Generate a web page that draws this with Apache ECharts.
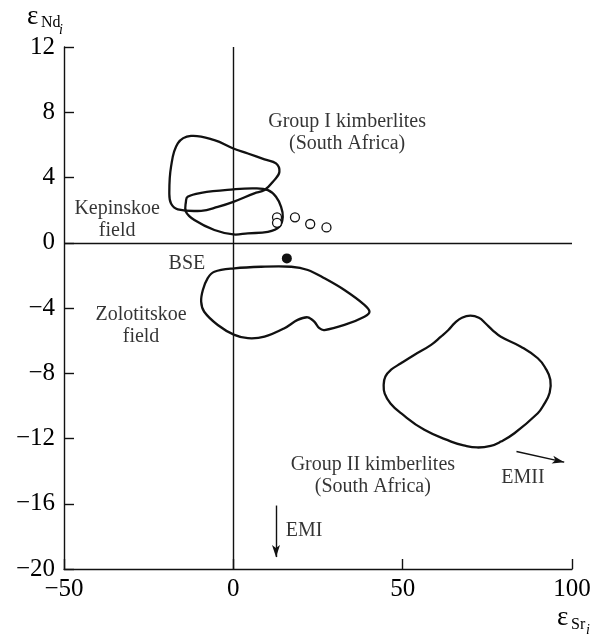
<!DOCTYPE html>
<html>
<head>
<meta charset="utf-8">
<script src="https://cdn.jsdelivr.net/npm/echarts@6/dist/echarts.min.js"></script>
<style>
  html, body { margin: 0; padding: 0; background: #fff; }
  #chart { width: 602px; height: 639px; }
</style>
</head>
<body>
<div id="chart"></div>
<script>
// Axis ranges and ticks
const xRange = [-50, 100];
const xStep = 50;
const yRange = [-20, 12];
const yStep = 4;

// Field outlines, [εSr, εNd]
const groupI = [
  [-12.5, 6.55], [-5.6, 6.29], [0, 5.78], [4.3, 5.47], [9.2, 5.11], [12.6, 4.86],
  [13.6, 4.35], [12.1, 3.84], [9.2, 3.23], [6.2, 3.03], [0, 2.51], [-4.6, 2.20],
  [-9.5, 1.96], [-16.4, 2.05], [-18.4, 2.41], [-18.9, 3.03], [-18.4, 4.65], [-16.4, 6.09]
];
const kepinskoe = [
  [-13.5, 2.82], [-9.5, 3.06], [0, 3.27], [6.2, 3.33], [10.2, 3.23], [12.6, 2.82],
  [14.1, 2.20], [14.6, 1.59], [13.6, 0.98], [10.2, 0.67], [4.3, 0.58], [0, 0.51],
  [-5.6, 0.78], [-11.5, 1.39], [-14.0, 1.90], [-14.0, 2.51]
];
const zolotitskoe = [
  [-5.6, -1.78], [0.3, -1.57], [8.2, -1.47], [17.1, -1.47], [22.0, -1.67], [26.9, -2.18],
  [32.8, -2.90], [38.7, -3.81], [40.2, -4.23], [38.7, -4.53], [32.8, -5.04], [26.9, -5.35],
  [25.4, -5.24], [23.9, -4.84], [22.0, -4.57], [19.0, -4.73], [15.1, -5.24], [9.2, -5.76],
  [4.3, -5.85], [0.3, -5.65], [-4.6, -5.04], [-8.6, -4.23], [-9.5, -3.61], [-9.0, -2.90],
  [-7.6, -2.18]
];
const groupII = [
  [67.5, -4.60], [70.0, -4.47], [72.5, -4.60], [74.5, -4.95], [76.5, -5.35], [79.0, -5.76],
  [84.9, -6.37], [89.9, -7.08], [92.2, -7.70], [93.6, -8.40], [93.4, -9.20], [91.6, -9.95],
  [89.9, -10.45], [83.0, -11.68], [79.0, -12.19], [76.0, -12.45], [72.0, -12.55], [68.0, -12.42],
  [64.3, -12.19], [56.4, -11.47], [49.5, -10.45], [46.4, -9.85], [44.7, -9.25], [44.4, -8.70],
  [44.9, -8.20], [46.5, -7.80], [49.5, -7.39], [53.4, -6.88], [58.4, -6.26], [61.3, -5.76],
  [63.5, -5.35], [65.5, -4.90]
];

// Kepinskoe samples (open circles) and bulk silicate earth (filled)
const kepinskoeSamples = [[12.9, 1.56], [12.9, 1.22], [18.2, 1.56], [22.7, 1.15], [27.5, 0.94]];
const bse = [[15.8, -0.96]];

// Mantle end-member trend arrows
const emiArrow = [[12.6, -16.11], [12.6, -19.27]];
const emiiArrow = [[83.6, -12.80], [97.7, -13.45]];

// Field and end-member labels
const labelTexts = [
  'Group I kimberlites\n(South Africa)',
  'Kepinskoe\nfield',
  'BSE',
  'Zolotitskoe\nfield',
  'Group II kimberlites\n(South Africa)',
  'EMII',
  'EMI'
];
const labelAt = [
  [33.6, 6.75], [-34.3, 1.39], [-13.7, -1.30], [-27.25, -5.07],
  [41.2, -14.29], [85.5, -14.41], [20.9, -17.65]
];

const INK = '#111';
const SERIF = '"Liberation Serif", "Times New Roman", serif';

const chart = echarts.init(document.getElementById('chart'), null, { renderer: 'canvas' });

function outline(points, smooth) {
  return {
    type: 'custom',
    data: points,
    encode: { x: 0, y: 1 },
    silent: true,
    z: 3,
    renderItem: function (params, api) {
      if (params.dataIndex !== 0) return;
      const pts = points.map(p => api.coord(p));
      return {
        type: 'polygon',
        shape: { points: pts, smooth: smooth },
        style: { fill: 'none', stroke: INK, lineWidth: 2.3 }
      };
    }
  };
}

const minus = v => String(v).replace('-', '\u2212');

function axisCommon() {
  return {
    type: 'value',
    splitLine: { show: false },
    axisLine: { show: true, onZero: false, lineStyle: { color: INK, width: 1.4 } },
    axisTick: { show: true, inside: true, length: 10, lineStyle: { color: INK, width: 1.4 } },
    axisLabel: {
      color: '#000', fontFamily: SERIF, fontSize: 25,
      formatter: minus
    }
  };
}

const xAxis = Object.assign(axisCommon(), { min: xRange[0], max: xRange[1], interval: xStep });
xAxis.axisLabel.margin = 8;
const yAxis = Object.assign(axisCommon(), { min: yRange[0], max: yRange[1], interval: yStep });
yAxis.axisLabel.margin = 9;

const option = {
  animation: false,
  backgroundColor: '#fff',
  grid: { left: 64, right: 30, top: 47, bottom: 70, containLabel: false, outerBoundsMode: 'none' },
  xAxis: xAxis,
  yAxis: yAxis,
  series: [
    {
      // zero reference lines and trend arrows
      type: 'line',
      data: [],
      silent: true,
      markLine: {
        silent: true,
        animation: false,
        symbol: ['none', 'none'],
        label: { show: false },
        lineStyle: { color: INK, width: 1.4, type: 'solid' },
        data: [
          { xAxis: 0 },
          { yAxis: 0 },
          [
            { coord: emiArrow[0], symbol: 'none' },
            { coord: emiArrow[1], symbol: 'arrow', symbolSize: [6, 12] }
          ],
          [
            { coord: emiiArrow[0], symbol: 'none' },
            { coord: emiiArrow[1], symbol: 'arrow', symbolSize: [6, 12] }
          ]
        ]
      }
    },
    outline(groupI, 0.4),
    outline(kepinskoe, 0.4),
    outline(zolotitskoe, 0.35),
    outline(groupII, 0.45),
    {
      type: 'scatter',
      data: kepinskoeSamples,
      symbol: 'circle',
      symbolSize: 9,
      silent: true,
      z: 4,
      itemStyle: { color: '#fff', borderColor: INK, borderWidth: 1.3, opacity: 1 }
    },
    {
      type: 'scatter',
      data: bse,
      symbol: 'circle',
      symbolSize: 10,
      silent: true,
      z: 4,
      itemStyle: { color: INK, opacity: 1 }
    },
    {
      type: 'scatter',
      silent: true,
      z: 5,
      symbolSize: 1,
      itemStyle: { color: 'transparent' },
      data: labelTexts.map((t, i) => ({ name: t, value: labelAt[i] })),
      label: {
        show: true,
        position: 'inside',
        formatter: p => p.name,
        color: '#000',
        fontFamily: SERIF,
        fontSize: 20,
        lineHeight: 22,
        align: 'center',
        verticalAlign: 'middle'
      }
    }
  ],
  graphic: [
    // εNd(i) axis title
    { type: 'text', x: 27, y: 16.5, style: { text: 'ε', font: '27px ' + SERIF, fill: '#000', verticalAlign: 'middle' } },
    { type: 'text', x: 41, y: 23, style: { text: 'Nd', font: '16px ' + SERIF, fill: '#000', verticalAlign: 'middle' } },
    { type: 'text', x: 59, y: 30.3, style: { text: 'i', font: 'italic 14px ' + SERIF, fill: '#000', verticalAlign: 'middle' } },
    // εSr(i) axis title
    { type: 'text', x: 557, y: 617.5, style: { text: 'ε', font: '27px ' + SERIF, fill: '#000', verticalAlign: 'middle' } },
    { type: 'text', x: 571, y: 624.6, style: { text: 'Sr', font: '16px ' + SERIF, fill: '#000', verticalAlign: 'middle' } },
    { type: 'text', x: 586, y: 630.5, style: { text: 'i', font: 'italic 14px ' + SERIF, fill: '#000', verticalAlign: 'middle' } }
  ]
};

chart.setOption(option);
</script>
</body>
</html>
